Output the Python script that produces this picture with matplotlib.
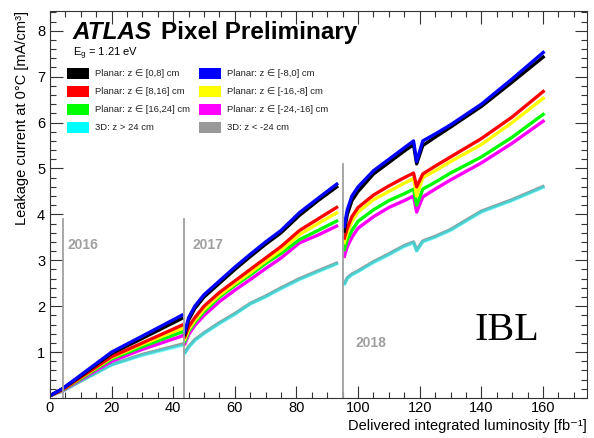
import matplotlib
matplotlib.use("Agg")
import matplotlib.pyplot as plt
from matplotlib.patches import Rectangle
from matplotlib.ticker import MultipleLocator

plt.rcParams['font.family'] = ['Liberation Sans', 'DejaVu Sans']

# ---------------- data ----------------
labels = ["Planar: z \u2208 [0,8] cm", "Planar: z \u2208 [8,16] cm",
          "Planar: z \u2208 [16,24] cm", "3D: z > 24 cm",
          "Planar: z \u2208 [-8,0] cm", "Planar: z \u2208 [-16,-8] cm",
          "Planar: z \u2208 [-24,-16] cm", "3D: z < -24 cm"]
colors = ["#000000", "#ff0000", "#00ff00", "#00ffff",
          "#0000ff", "#ffff00", "#ff00ff", "#999999"]

# run periods (x in fb^-1)
x1 = [0, 4, 10, 20, 30, 43.3]
x2 = [43.6, 45, 47, 50, 55, 60, 65, 70, 75, 81, 87, 93.5]
x3 = [95.4, 96.5, 98, 100, 105, 110, 115, 118, 119, 121, 125, 130, 140, 150, 160.5]

black_1 = [0.05, 0.2, 0.48, 0.97, 1.30, 1.75]
black_2 = [1.35, 1.70, 1.95, 2.20, 2.50, 2.80, 3.08, 3.35, 3.60, 3.98, 4.30, 4.62]
black_3 = [3.60, 4.00, 4.30, 4.50, 4.88, 5.13, 5.38, 5.52, 5.10, 5.50, 5.68, 5.90, 6.35, 6.88, 7.45]

blue_1 = [0.05, 0.2, 0.50, 1.00, 1.35, 1.82]
blue_2 = [1.40, 1.75, 2.00, 2.25, 2.55, 2.85, 3.13, 3.40, 3.65, 4.04, 4.35, 4.68]
blue_3 = [3.70, 4.10, 4.40, 4.60, 4.95, 5.20, 5.45, 5.60, 5.15, 5.60, 5.75, 5.95, 6.40, 6.95, 7.55]

red_1 = [0.05, 0.18, 0.45, 0.90, 1.20, 1.60]
red_2 = [1.30, 1.55, 1.75, 2.00, 2.30, 2.55, 2.80, 3.05, 3.30, 3.65, 3.90, 4.17]
red_3 = [3.45, 3.70, 3.95, 4.15, 4.42, 4.62, 4.80, 4.90, 4.60, 4.88, 5.05, 5.25, 5.65, 6.12, 6.70]

yellow_1 = [0.05, 0.18, 0.44, 0.88, 1.17, 1.53]
yellow_2 = [1.25, 1.49, 1.69, 1.93, 2.24, 2.49, 2.73, 2.98, 3.22, 3.56, 3.80, 4.05]
yellow_3 = [3.35, 3.60, 3.85, 4.05, 4.32, 4.50, 4.68, 4.78, 4.40, 4.80, 4.95, 5.15, 5.52, 6.00, 6.55]

green_1 = [0.05, 0.17, 0.42, 0.85, 1.12, 1.45]
green_2 = [1.20, 1.45, 1.65, 1.88, 2.20, 2.45, 2.68, 2.93, 3.15, 3.45, 3.65, 3.87]
green_3 = [3.20, 3.45, 3.65, 3.85, 4.10, 4.30, 4.45, 4.55, 4.20, 4.55, 4.70, 4.90, 5.25, 5.68, 6.20]

magenta_1 = [0.05, 0.16, 0.40, 0.80, 1.06, 1.36]
magenta_2 = [1.15, 1.38, 1.58, 1.80, 2.10, 2.35, 2.58, 2.82, 3.05, 3.38, 3.55, 3.76]
magenta_3 = [3.05, 3.30, 3.50, 3.70, 3.95, 4.15, 4.30, 4.40, 4.05, 4.38, 4.55, 4.75, 5.12, 5.55, 6.05]

cyan_1 = [0.05, 0.15, 0.37, 0.72, 0.93, 1.15]
cyan_2 = [0.95, 1.10, 1.25, 1.40, 1.62, 1.82, 2.05, 2.20, 2.38, 2.58, 2.75, 2.93]
cyan_3 = [2.45, 2.60, 2.68, 2.75, 2.95, 3.12, 3.30, 3.38, 3.20, 3.40, 3.50, 3.65, 4.05, 4.30, 4.60]

gray_1 = [0.05, 0.15, 0.37, 0.73, 0.95, 1.18]
gray_2 = [0.97, 1.12, 1.27, 1.42, 1.64, 1.84, 2.06, 2.22, 2.40, 2.60, 2.77, 2.95]
gray_3 = [2.47, 2.62, 2.70, 2.77, 2.97, 3.14, 3.32, 3.40, 3.22, 3.42, 3.52, 3.67, 4.07, 4.32, 4.62]

series = {
    "black": (black_1, black_2, black_3),
    "red": (red_1, red_2, red_3),
    "green": (green_1, green_2, green_3),
    "cyan": (cyan_1, cyan_2, cyan_3),
    "blue": (blue_1, blue_2, blue_3),
    "yellow": (yellow_1, yellow_2, yellow_3),
    "magenta": (magenta_1, magenta_2, magenta_3),
    "gray": (gray_1, gray_2, gray_3),
}
names = ["black", "red", "green", "cyan", "blue", "yellow", "magenta", "gray"]

year_lines = [4.2, 43.5, 95.2]
year_line_tops = [3.9, 3.9, 5.1]
year_labels = ["2016", "2017", "2018"]
year_label_pos = [(5.8, 3.33), (46.2, 3.33), (99.0, 1.2)]

# ---------------- figure ----------------
fig = plt.figure(figsize=(5.94, 4.38), dpi=100)
ax = fig.add_axes([50/594, 1-398/438, 537/594, 387/438])
ax.set_xlim(0, 174.3)
ax.set_ylim(0, 8.43)

draw_order = ["gray", "cyan", "magenta", "green", "yellow", "red", "black", "blue"]
for nm in draw_order:
    i = names.index(nm)
    c = colors[i]
    alpha = 0.5 if nm == "cyan" else 1.0
    lw = 2.4
    for xs, ys in zip((x1, x2, x3), series[nm]):
        ax.plot(xs, ys, color=c, lw=lw, alpha=alpha, solid_capstyle='butt',
                solid_joinstyle='round')

for xl, top in zip(year_lines, year_line_tops):
    ax.plot([xl, xl], [0, top], color="#a0a0a0", lw=1.3)
for lab, (tx, ty) in zip(year_labels, year_label_pos):
    ax.text(tx, ty, lab, color="#a0a0a0", fontsize=10, fontweight='bold',
            ha='left', va='center')

ax.text(148.4, 1.46, "IBL", family=['Liberation Serif', 'DejaVu Serif'],
        fontsize=29, ha='center', va='center', color='black')

# title
def fx(px):
    return (px - 50) / 537.0

def fy(py):
    return 1 - (py - 11) / 387.0

t1 = ax.text(fx(72), fy(32.5), "ATLAS", transform=ax.transAxes,
             fontsize=17.5, fontweight='bold', fontstyle='italic',
             ha='left', va='center')
fig.canvas.draw()
bb = t1.get_window_extent(renderer=fig.canvas.get_renderer())
x_end_px = bb.x1
ax_bb = ax.get_window_extent()
x_end_ax = (x_end_px - ax_bb.x0) / ax_bb.width
ax.text(x_end_ax + 0.018, fy(32.5), "Pixel Preliminary", transform=ax.transAxes,
        fontsize=17.5, fontweight='bold', ha='left', va='center')

ax.text(fx(73), fy(54), r"E$_{\mathregular{g}}$ = 1.21 eV", transform=ax.transAxes,
        fontsize=8, ha='left', va='center')

# legend (manual, ROOT style)
row_y = [73, 91.5, 109.5, 127.5]
col_box_x = [67, 199]
col_txt_x = [95, 227]
for k, (lab, c) in enumerate(zip(labels, colors)):
    col = k // 4
    row = k % 4
    bx0 = fx(col_box_x[col])
    bw = 22 / 537.0
    bh = 11 / 387.0
    by = fy(row_y[row]) - bh / 2
    ax.add_patch(Rectangle((bx0, by), bw, bh, transform=ax.transAxes,
                           facecolor=c, edgecolor='none'))
    ax.text(fx(col_txt_x[col]), fy(row_y[row]), lab, transform=ax.transAxes,
            fontsize=6.8, ha='left', va='center', color='#222222')

# axes style
ax.xaxis.set_major_locator(MultipleLocator(20))
ax.xaxis.set_minor_locator(MultipleLocator(5))
ax.yaxis.set_major_locator(MultipleLocator(1))
ax.yaxis.set_minor_locator(MultipleLocator(0.2))
ax.tick_params(which='both', direction='in', top=True, right=True,
               labelsize=10.5, width=0.8, color='#333333')
ax.tick_params(which='major', length=9)
ax.tick_params(which='minor', length=4.5)
ax.tick_params(axis='x', pad=2.5)
ax.set_yticks([1, 2, 3, 4, 5, 6, 7, 8])
for sp in ax.spines.values():
    sp.set_linewidth(0.8)
    sp.set_color('#333333')

ax.set_xlabel("Delivered integrated luminosity [fb\u207b\u00b9]",
              fontsize=10.5, ha='right', va='top')
ax.xaxis.set_label_coords(1.0, -0.054)
ax.set_ylabel("Leakage current at 0\u00b0C [mA/cm\u00b3]",
              fontsize=10.5, ha='right', y=1.0, labelpad=6)

fig.savefig("out.png", dpi=100)
